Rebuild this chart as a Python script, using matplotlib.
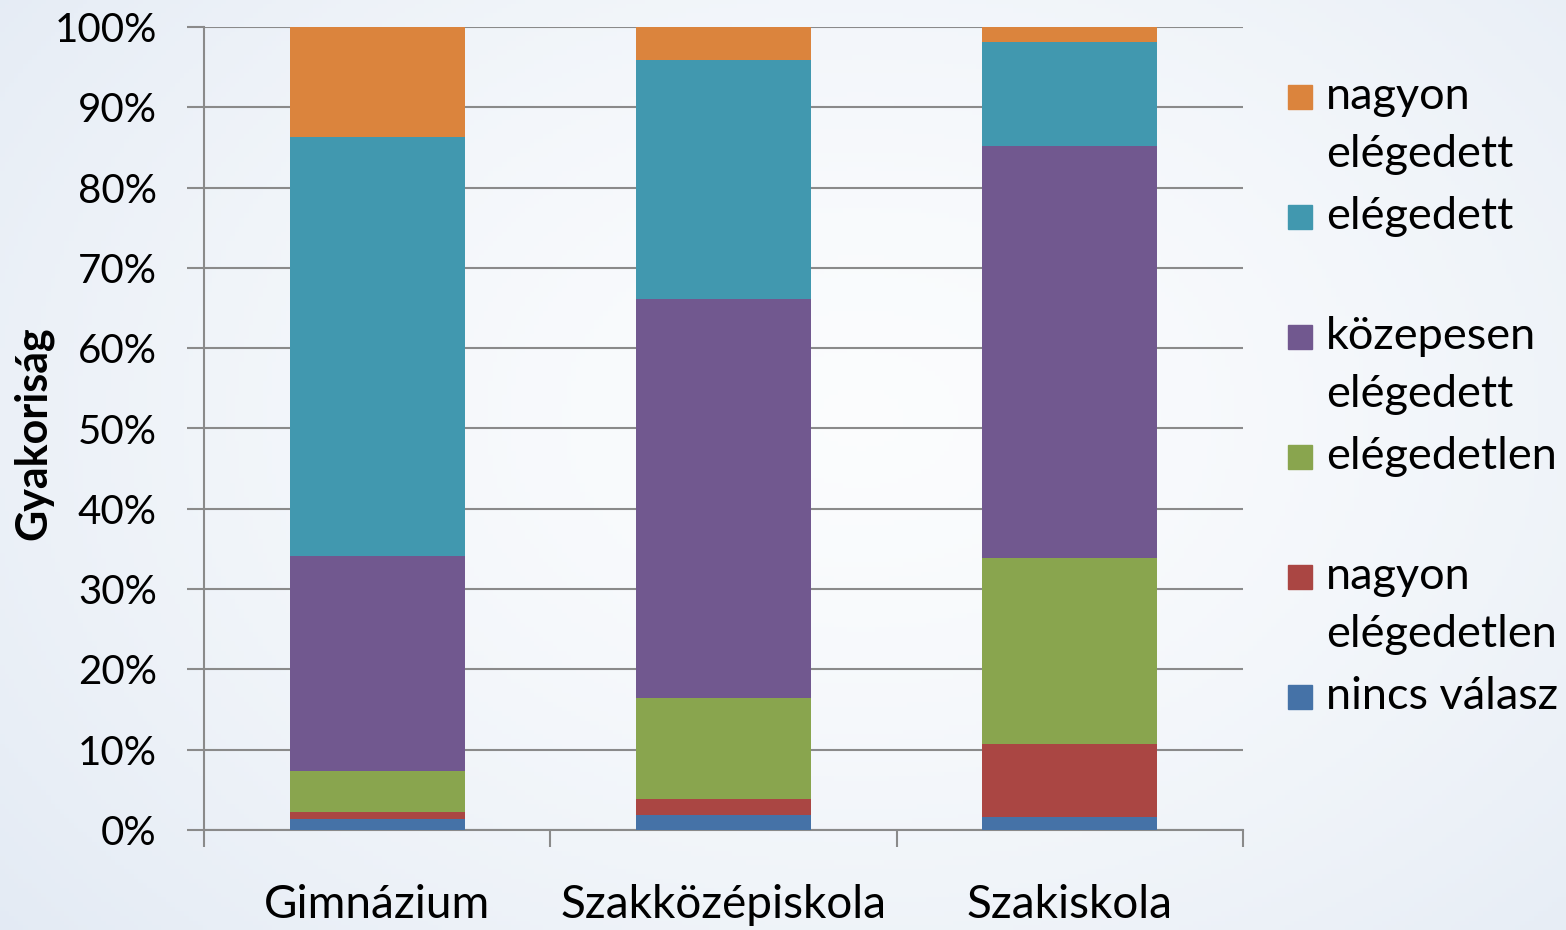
import numpy as np
import matplotlib
matplotlib.use("Agg")
import matplotlib.pyplot as plt
from matplotlib.patches import Rectangle
from matplotlib.ticker import FixedLocator, PercentFormatter

plt.rcParams['font.family'] = ['Lato', 'DejaVu Sans']

# adatok (százalék), alulról felfelé
iskolak = ["Gimnázium", "Szakközépiskola", "Szakiskola"]
nincs_valasz = [1.4, 1.9, 1.6]
nagyon_elegedetlen = [0.9, 2.0, 9.1]
elegedetlen = [5.1, 12.5, 23.2]
kozepesen = [26.7, 49.7, 51.3]
elegedett = [52.2, 29.8, 12.9]
nagyon_elegedett = [13.7, 4.1, 1.9]

sorozatok = [nincs_valasz, nagyon_elegedetlen, elegedetlen,
             kozepesen, elegedett, nagyon_elegedett]
cimkek = ["nincs válasz", "nagyon\nelégedetlen", "elégedetlen",
          "közepesen\nelégedett", "elégedett", "nagyon\nelégedett"]
szinek = ["#4572A7", "#AA4643", "#89A54E", "#71588F", "#4198AF", "#DB843D"]

W, H = 1566, 930
fig = plt.figure(figsize=(W / 100, H / 100), dpi=100)

# halvány kékes háttér
bg = fig.add_axes([0, 0, 1, 1], zorder=-10)
yy, xx = np.mgrid[0:1:200j, 0:1:340j]
d = np.sqrt(((xx - 0.55) / 0.75) ** 2 + ((yy - 0.45) / 0.9) ** 2)
d = np.clip(d, 0, 1)
c0 = np.array([0.985, 0.99, 0.995])
c1 = np.array([0.885, 0.915, 0.955])
img = c0 + (c1 - c0) * d[..., None] ** 1.5
bg.imshow(img, aspect='auto', extent=[0, 1, 0, 1], origin='upper')
bg.axis('off')

ax = fig.add_axes([204 / W, 1 - 830 / H, (1243 - 204) / W, (830 - 27) / H])
ax.patch.set_alpha(0)

x = np.arange(len(iskolak))
alap = np.zeros(len(iskolak))
for ertek, szin in zip(sorozatok, szinek):
    ax.bar(x, ertek, bottom=alap, width=0.505, color=szin, zorder=3)
    alap += np.array(ertek)

racs = "#8a8a8a"
ax.set_xlim(-0.5, 2.5)
ax.set_ylim(0, 100)
ax.yaxis.set_major_locator(FixedLocator(np.arange(0, 101, 10)))
ax.yaxis.set_major_formatter(PercentFormatter(decimals=0))
ax.grid(axis='y', color=racs, linewidth=1.5, zorder=0)
ax.set_xticks(x)
ax.set_xticklabels(iskolak)
ax.xaxis.set_minor_locator(FixedLocator([-0.5, 0.5, 1.5, 2.5]))
ax.tick_params(axis='x', which='major', length=0, labelsize=33, pad=39)
ax.tick_params(axis='x', which='minor', length=12, width=1.5, color=racs)
ax.tick_params(axis='y', length=12, width=1.5, color=racs, labelsize=29, pad=22)
for s in ['top', 'right']:
    ax.spines[s].set_visible(False)
for s in ['left', 'bottom']:
    ax.spines[s].set_color(racs)
    ax.spines[s].set_linewidth(1.5)

fig.text(33 / W, 1 - 433 / H, "Gyakoriság", rotation=90, fontsize=31,
         fontweight='bold', ha='center', va='center')

# jelmagyarázat kézzel (felülről lefelé)
for i, (cimke, szin) in enumerate(zip(cimkek[::-1], szinek[::-1])):
    y0 = 97 + 120 * i
    fig.patches.append(Rectangle((1288 / W, 1 - (y0 + 12) / H), 24 / W, 24 / H,
                                 transform=fig.transFigure, color=szin))
    for j, sor in enumerate(cimke.split("\n")):
        fig.text(1326 / W, 1 - (y0 + 12 + 58 * j) / H, sor, fontsize=32.5,
                 ha='left', va='baseline')

fig.savefig("out.png", dpi=100)
